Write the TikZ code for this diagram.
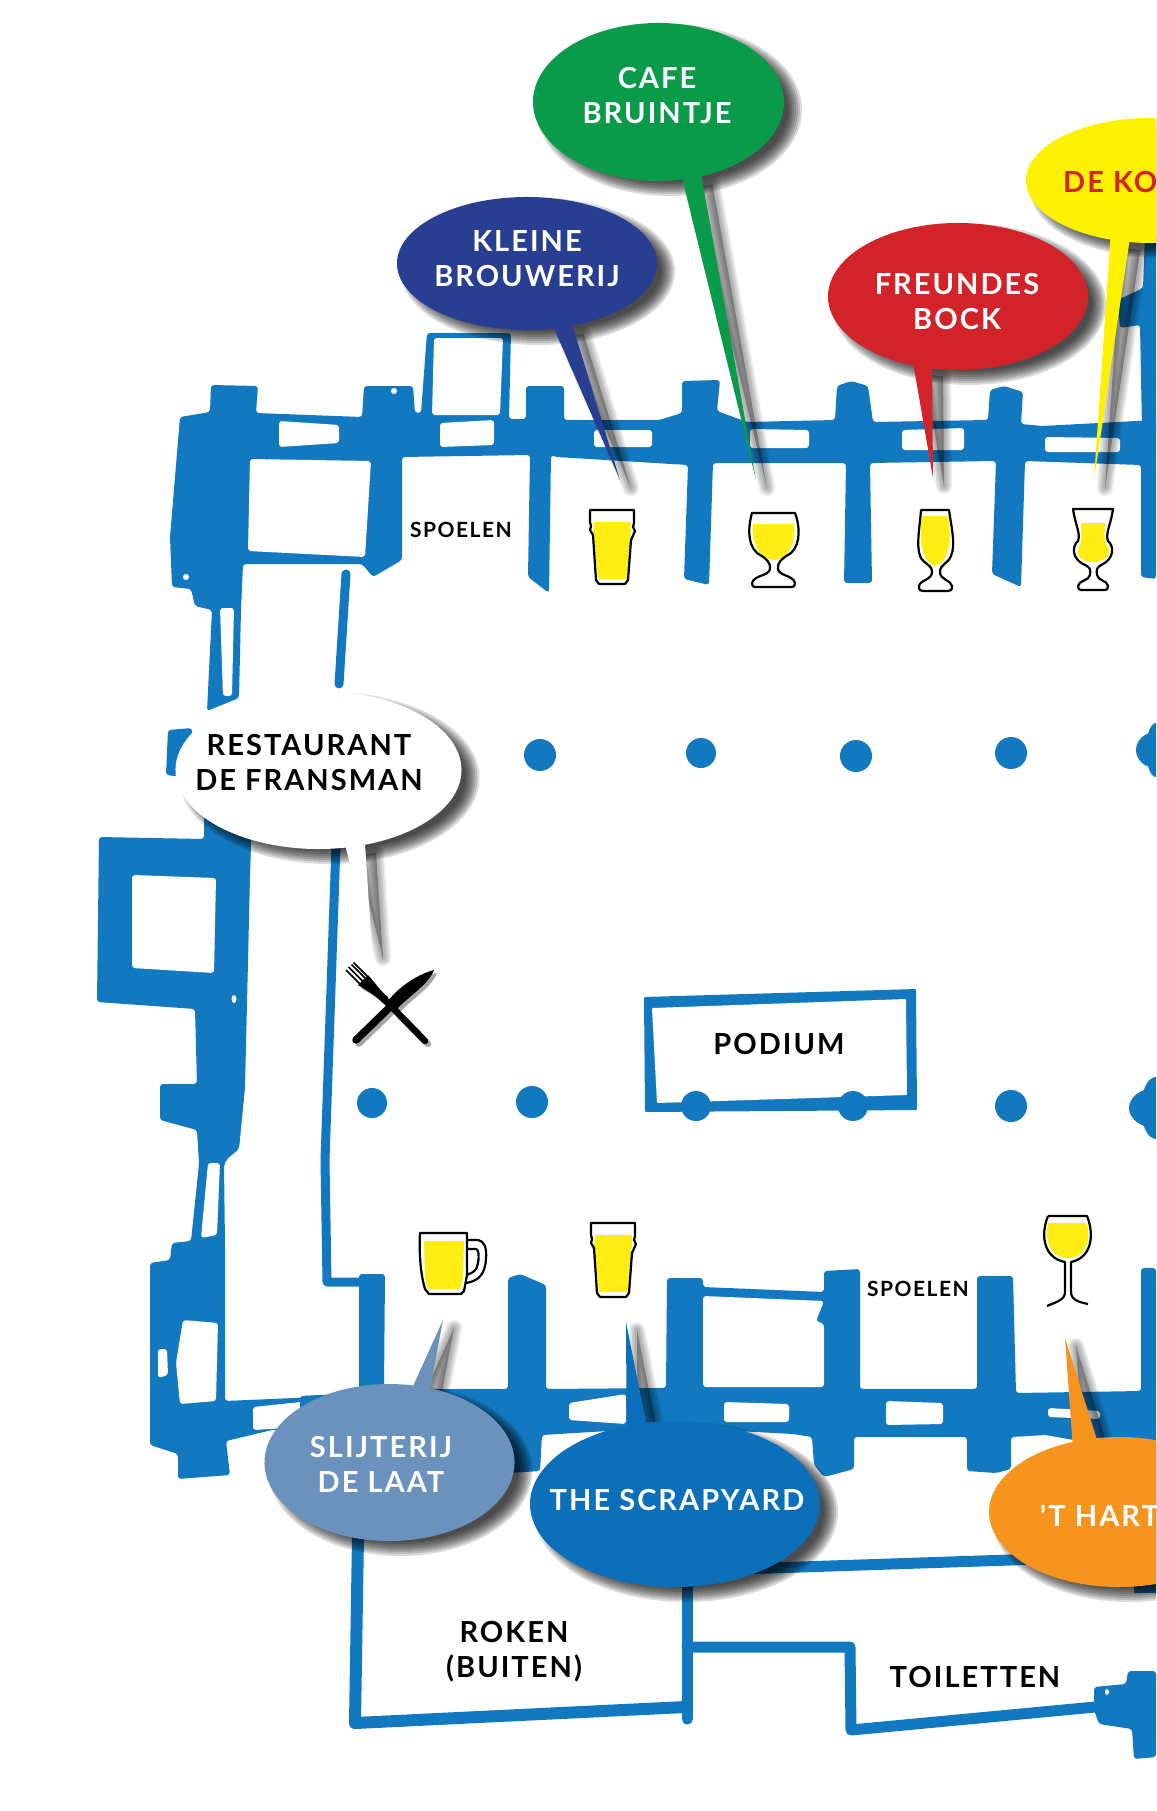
\documentclass[tikz,border=0pt]{standalone}
\usepackage{fontspec}
\setmainfont{Lato}
\newfontfamily\mapfont{Lato}[LetterSpace=7]
\definecolor{wallblue}{HTML}{1278BF}
\definecolor{beeryellow}{HTML}{FFED14}
\definecolor{cafegreen}{HTML}{0A9B4A}
\definecolor{kleineblue}{HTML}{283F91}
\definecolor{freundesred}{HTML}{D2232A}
\definecolor{konyellow}{HTML}{FFF200}
\definecolor{laatblue}{HTML}{6A92BC}
\definecolor{scrapblue}{HTML}{0B70B9}
\definecolor{hartorange}{HTML}{F7941D}
\tikzset{
	wall/.style={fill=wallblue, rounded corners=3pt},
	hole/.style={wall, fill=white},
	wallline/.style={draw=wallblue, line cap=round, line join=round},
	glassline/.style={draw=black, line width=2.2, line join=round},
	beer/.style={fill=beeryellow},
	bubbleshadow/.style={draw=black, fill=black, opacity=.14, line join=round},
	bubblelabel/.style={font=\mapfont\bfseries\fontsize{29}{35}\selectfont, text=white, align=center, inner sep=0},
	maplabel/.style={font=\mapfont\bfseries\fontsize{29}{35}\selectfont, text=black, align=center, inner sep=0},
	smalllabel/.style={font=\mapfont\bfseries\fontsize{21}{22}\selectfont, text=black, inner sep=0},
	pintglass/.pic={
		\path[beer] (4,12) -- (41,12) -- (41,22) -- (37,69) -- (8,69) -- (3,24) -- cycle;
		\path[glassline] (0,0) -- (44,0) -- (44,13) -- (43,17) -- (45,21) -- (41,30) -- (38,70) -- (35,74) -- (9,74) -- (6,70) -- (3,25) -- (0,20) -- (1,16) -- (0,12) -- cycle;
	},
	gobletglass/.pic={
		\path[beer] (4,11) -- (45,11) .. controls (47,25) and (42,46) .. (25,47) .. controls (8,46) and (2,25) .. (4,11) -- cycle;
		\path[glassline] (3,0) -- (46,0) .. controls (50,10) and (53,30) .. (42,40) .. controls (32,46) and (28,50) .. (29,56) .. controls (30,63) and (44,62) .. (46,70) .. controls (46,73) and (45,74) .. (43,74) -- (6,74) .. controls (4,74) and (3,73) .. (3,70) .. controls (5,62) and (20,63) .. (21,56) .. controls (22,50) and (18,46) .. (8,40) .. controls (-3,30) and (0,10) .. (3,0) -- cycle;
	},
	tallglass/.pic={
		\path[beer] (4,6) -- (30,6) .. controls (33,25) and (34,50) .. (17,56) .. controls (1,50) and (2,25) .. (4,6) -- cycle;
		\path[glassline] (3,0) -- (31,0) .. controls (33,15) and (38,35) .. (33,46) .. controls (30,54) and (22,54) .. (22,62) .. controls (22,70) and (33,70) .. (34,76) .. controls (34,80) and (33,81) .. (30,81) -- (5,81) .. controls (2,81) and (1,80) .. (1,76) .. controls (2,70) and (14,70) .. (14,62) .. controls (14,54) and (5,54) .. (2,46) .. controls (-2,35) and (2,15) .. (3,0) -- cycle;
	},
	hurricaneglass/.pic={
		\path[beer] (8,14) -- (32,14) .. controls (32,25) and (30,30) .. (35,38) .. controls (40,47) and (30,53) .. (20,53) .. controls (10,53) and (1,47) .. (6,38) .. controls (10,30) and (8,25) .. (8,14) -- cycle;
		\path[glassline] (0,0) -- (40,0) .. controls (38,15) and (32,25) .. (35,32) .. controls (42,38) and (40,50) .. (30,55) .. controls (24,58) and (23,60) .. (24,66) .. controls (25,72) and (34,71) .. (35,77) .. controls (35,80) and (34,81) .. (32,81) -- (8,81) .. controls (6,81) and (5,80) .. (5,77) .. controls (6,71) and (16,72) .. (17,66) .. controls (18,60) and (17,58) .. (10,55) .. controls (0,50) and (-2,38) .. (5,32) .. controls (8,25) and (2,15) .. (0,0) -- cycle;
	},
	mugglass/.pic={
		\path[beer] (4,8) -- (44,8) -- (43,45) -- (40,56) -- (8,56) -- (5,45) -- cycle;
		\path[glassline] (47,7) -- (58,7) .. controls (64,8) and (67,14) .. (66,26) .. controls (65,42) and (58,48) .. (46,50);
		\path[glassline] (47,16) -- (56,16) .. controls (60,17) and (59,30) .. (56,36) .. controls (54,39) and (50,41) .. (46,42);
		\path[glassline] (0,0) -- (47,0) -- (47,42) -- (44,58) -- (41,61) -- (9,61) -- (5,56) .. controls (0,40) and (-1,15) .. (0,0) -- cycle;
	},
	wineglass/.pic={
		\path[beer] (5,7) -- (44,7) .. controls (48,22) and (44,42) .. (25,42) .. controls (5,42) and (2,22) .. (5,7) -- cycle;
		\path[glassline] (5,0) -- (44,0) .. controls (52,20) and (48,42) .. (28,46) -- (28,76) .. controls (28,84) and (36,86) .. (45,88) (5,0) .. controls (-3,20) and (1,42) .. (22,46) -- (22,76) .. controls (22,84) and (13,86) .. (4,90);
	},
	cutlery/.pic={
		% fork
		\fill[#1] (368,975) .. controls (376,984) and (379,990) .. (388,997) -- (383,1003) .. controls (375,995) and (369,992) .. (358,985) -- cycle;
		\draw[#1, line width=1.5] (346,970) -- (360,984) (348.5,967) -- (362.5,981) (351.5,964.5) -- (365,978) (353.5,962.5) -- (367,976);
		\draw[#1, line width=6.5, line cap=round] (384,999) -- (425,1041);
		% knife
		\fill[#1] (386,1004) .. controls (395,990) and (415,975) .. (434,970) .. controls (428,985) and (410,995) .. (396,1010) -- cycle;
		\draw[#1, line width=7.5, line cap=round] (391,1006) -- (356,1040);
	}
}
% colour, centre x, y, radii x, y, start angle, sweep, tip x, y
\newcommand{\bubbleoutline}[8]{(#1,#2) ++(#5:#3 and #4) arc[start angle=#5, delta angle=#6, x radius=#3, y radius=#4] -- (#7,#8) -- cycle}
\newcommand{\bubble}[9]{
	\begin{scope}[xshift=11pt, yshift=-8pt]
		\foreach \grow in {7,5,3,1,-1,-3,-5,-7}{
			\fill[bubbleshadow, draw=none] (#2,#3) ellipse ({#4+\grow} and {#5+\grow});
		}
		\foreach \shw in {16,13,10,7,4}{
			\draw[bubbleshadow, opacity=.07, line width=\shw] ({#2+#4*cos(#6)},{#3+#5*sin(#6)}) -- (#8,#9) -- ({#2+#4*cos(#6+#7)},{#3+#5*sin(#6+#7)}) -- cycle;
		}
	\end{scope}
	\fill[#1] \bubbleoutline{#2}{#3}{#4}{#5}{#6}{#7}{#8}{#9};
}

\begin{document}
\begin{tikzpicture}[x=1pt, y=-1pt]
	\useasboundingbox (0,0) rectangle (1156,1811);
	\clip (0,0) rectangle (1156,1811);

	% top band with its pillars
	\path[wall] (180,417) -- (210,412) -- (211,385) -- (258,386) -- (256,413) -- (362,417) -- (364,386) -- (413,386) -- (415,413) -- (421,413) -- (427,333) -- (511,333) -- (509,419) -- (526,419) -- (526,386) -- (564,386) -- (564,420) -- (659,420) -- (682,413) -- (682,381) -- (720,380) -- (717,411) -- (747,422) -- (835,420) -- (837,386) -- (851,381) -- (868,386) -- (873,422) -- (988,420) -- (990,390) -- (1004,386) -- (1023,392) -- (1021,424) -- (1042,426) -- (1156,420) -- (1156,579) -- (1141,577) -- (1141,465) -- (1025,461) -- (1021,587) -- (992,574) -- (996,461) -- (870,463) -- (872,583) -- (844,583) -- (846,463) -- (713,463) -- (709,585) -- (684,579) -- (688,465) -- (556,457) -- (551,455) -- (549,593) -- (528,577) -- (530,455) -- (402,457) -- (402,560) -- (373,577) -- (362,564) -- (249,564) -- (243,564) -- (241,610) -- (239,698) -- (207,711) -- (212,610) -- (195,606) -- (191,589) -- (172,587) -- (170,537) -- cycle;
	\path[wall] (1145,235) -- (1156,235) -- (1156,430) -- (1142,430) -- (1140,325) -- (1120,328) -- (1118,300) -- (1143,288) -- cycle;
	\path[hole] (250,459) -- (371,461) -- (365,557) -- (248,551) -- cycle;
	\path[hole] (434,338) -- (503,338) -- (500,415) -- (432,415) -- cycle;
	\path[hole] (220,608) -- (234,608) -- (232,696) -- (223,696) -- cycle;
	\path[hole] (279,421) -- (339,425) -- (339,443) -- (279,447) -- cycle;
	\path[hole] (440,423) -- (494,420) -- (494,445) -- (440,447) -- cycle;
	\path[hole] (594,430) -- (652,430) -- (652,447) -- (594,447) -- cycle;
	\path[hole] (750,429) -- (809,430) -- (809,448) -- (750,448) -- cycle;
	\path[hole] (902,430) -- (964,428) -- (964,450) -- (902,450) -- cycle;
	\path[hole] (1045,437) -- (1120,438) -- (1120,452) -- (1045,452) -- cycle;
	\fill[white] (394,391) circle (3) (186,577) circle (3);
	\path[wallline, line width=9] (346,574) -- (339,684);

	% left wing
	\path[wall] (168,730) -- (192,728) -- (192,778) -- (166,775) -- cycle;
	\path[wall] (99,837) -- (204,839) -- (204,810) -- (252,810) -- (250,877) -- (245,1088) -- (239,1149) -- (227,1159) -- (224,1165) -- (225,1245) -- (225,1401) -- (340,1396) -- (340,1429) -- (272,1430) -- (226,1441) -- (230,1475) -- (178,1479) -- (178,1454) -- (150,1445) -- (150,1263) -- (170,1260) -- (172,1243) -- (191,1241) -- (199,1164) -- (197,1130) -- (160,1120) -- (160,1084) -- (197,1084) -- (195,1009) -- (97,1002) -- cycle;
	\path[hole] (132,875) -- (216,878) -- (214,973) -- (132,968) -- cycle;
	\path[hole] (208,1163) -- (220,1163) -- (217,1235) -- (201,1238) -- cycle;
	\path[hole] (183,1320) -- (218,1323) -- (216,1401) -- (180,1404) -- (176,1363) -- cycle;
	\path[hole] (158,1349) -- (167,1349) -- (168,1375) -- (158,1378) -- cycle;
	\path[hole] (253,1407) -- (320,1400) -- (320,1426) -- (253,1430) -- cycle;
	\fill[white] (234,999) ellipse (2.5 and 4);
	\path[wallline, line width=9] (336,845) -- (325,1160) -- (327,1282) -- (362,1282);

	% bottom band with its pillars
	\path[wall] (300,1396) -- (359,1393) -- (359,1274) -- (385,1274) -- (384,1389) -- (508,1389) -- (508,1278) -- (520,1274) -- (546,1285) -- (546,1389) -- (666,1388) -- (667,1278) -- (703,1278) -- (703,1287) -- (824,1292) -- (824,1271) -- (860,1269) -- (860,1389) -- (977,1389) -- (977,1276) -- (1013,1276) -- (1016,1393) -- (1141,1391) -- (1141,1268) -- (1156,1268) -- (1156,1455) -- (1046,1435) -- (1011,1437) -- (1011,1469) -- (996,1473) -- (967,1471) -- (967,1437) -- (854,1437) -- (854,1469) -- (824,1477) -- (814,1465) -- (812,1437) -- (793,1434) -- (700,1429) -- (640,1429) -- (542,1435) -- (540,1471) -- (480,1475) -- (480,1429) -- (300,1429) -- cycle;
	\path[hole] (703,1296) -- (824,1301) -- (816,1321) -- (824,1324) -- (824,1387) -- (703,1387) -- cycle;
	\path[hole] (569,1403) -- (626,1394) -- (626,1424) -- (569,1420) -- cycle;
	\path[hole] (724,1402) -- (789,1404) -- (789,1422) -- (724,1422) -- cycle;
	\path[hole] (886,1401) -- (943,1403) -- (943,1424) -- (886,1425) -- cycle;
	\path[hole] (1048,1408) -- (1100,1411) -- (1100,1419) -- (1048,1417) -- cycle;

	% yard and toilets
	\path[wallline, line width=12] (358,1536) -- (355,1723) -- (685,1707);
	\path[wallline, line width=11] (687,1581) -- (687,1719);
	\path[wallline, line width=11] (687,1647) -- (850,1647) -- (851,1730) -- (1095,1707);
	\path[wallline, line width=11] (740,1569) -- (1040,1559);
	\fill[wallblue] (1134,1575) rectangle (1156,1593);
	\path[wall] (1094,1687) -- (1126,1684) -- (1128,1671) -- (1156,1671) -- (1156,1757) -- (1134,1759) -- (1132,1729) -- (1099,1724) -- (1094,1710) -- cycle;
	\fill[white] (1107,1692) ellipse (2 and 3);

	% podium
	\path[wall, rounded corners=1pt] (644,997) -- (916,989) -- (917,1110) -- (645,1112) -- cycle;
	\path[hole, rounded corners=1pt] (652,1008) -- (906,999) -- (907,1095) -- (657,1103) -- cycle;

	% columns
	\foreach \cx/\cy/\cr in {540/755/16, 701/753/15, 856/756/16, 1011/753/16, 372/1103/15, 532/1102/16, 696/1106/15, 853/1106/15, 1011/1106/16}{
		\fill[wallblue] (\cx,\cy) circle (\cr);
	}
	\fill[wallblue] (1156,750) ellipse (20 and 18) (1156,750) ellipse (10 and 27);
	\fill[wallblue] (1156,1108) ellipse (27 and 20) (1156,1108) ellipse (15 and 31);

	% glasses
	\pic (pinttop) at (590,510) {pintglass};
	\pic (goblet) at (749,513) {gobletglass};
	\pic (tall) at (918,510) {tallglass};
	\pic (hurricane) at (1073,509) {hurricaneglass};
	\pic (mug) at (420,1233) {mugglass};
	\pic (pintbottom) at (591,1223) {pintglass};
	\pic (wine) at (1043,1216) {wineglass};
	\pic (cutshadow) at (3,3) {cutlery={black!35}};
	\pic (cutfront) at (0,0) {cutlery=black};

	% room labels
	\node[smalllabel] (spoelentop) at (461,530) {SPOELEN};
	\node[smalllabel] (spoelenbottom) at (918,1289) {SPOELEN};
	\node[maplabel] (podium) at (779,1044) {PODIUM};
	\node[maplabel] (roken) at (514,1652) {ROKEN\\(BUITEN)};
	\node[maplabel] (toiletten) at (975,1677) {TOILETTEN};

	% callouts
	\bubble{kleineblue}{527}{263.5}{130}{66.5}{78}{351.5}{620}{480}
	\bubble{cafegreen}{658.5}{102}{125.5}{79}{79}{351}{756}{480}
	\bubble{freundesred}{958}{296.5}{130}{73.5}{110}{351.5}{933}{478}
	\bubble{konyellow}{1151}{180.5}{125}{62.5}{109}{351}{1094}{480}
	\bubble{white}{318.5}{770}{143}{79}{79}{352}{372}{950}
	\bubble{laatblue}{389.5}{1462.5}{125}{78.5}{289}{352}{443}{1320}
	\bubble{scrapblue}{675}{1504}{145}{83}{258.5}{352}{626}{1322}
	\bubble{hartorange}{1119}{1512}{130}{75}{260}{349}{1065}{1338}

	\node[bubblelabel] (kleine) at (527,259) {KLEINE\\BROUWERIJ};
	\node[bubblelabel] (cafe) at (657,96) {CAFE\\BRUINTJE};
	\node[bubblelabel] (freundes) at (957,302) {FREUNDES\\BOCK};
	\node[bubblelabel, text=freundesred, anchor=west] (konlabel) at (1063,182) {DE KO};
	\node[bubblelabel, text=black] (fransman) at (309,763) {RESTAURANT\\DE FRANSMAN};
	\node[bubblelabel] (laat) at (381,1464) {SLIJTERIJ\\DE LAAT};
	\node[bubblelabel] (scrapyard) at (677,1500) {THE SCRAPYARD};
	\node[bubblelabel, anchor=west] (hart) at (1040,1516) {'T HART};
\end{tikzpicture}
\end{document}
